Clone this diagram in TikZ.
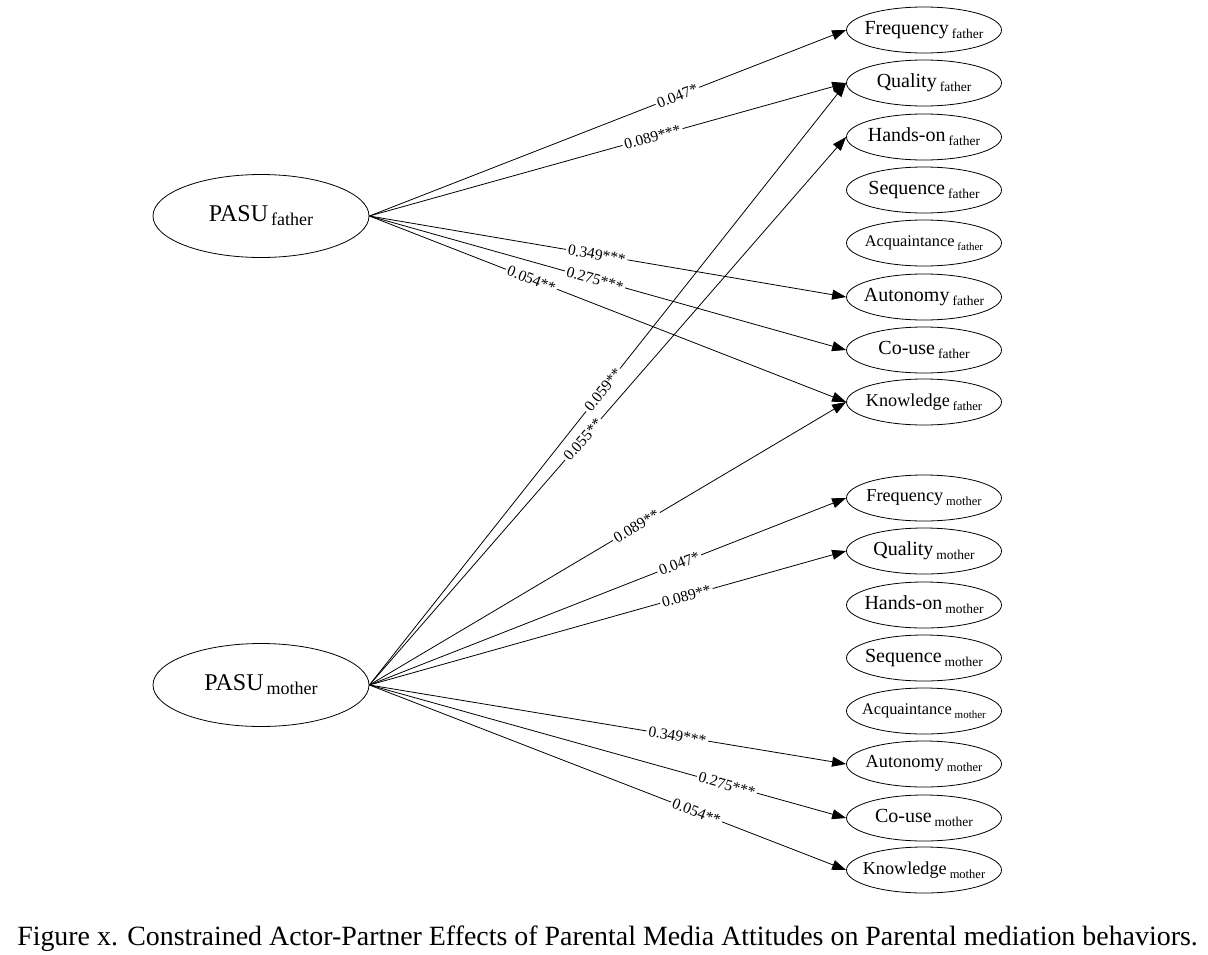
\documentclass[tikz,border=0pt]{standalone}
\usepackage{fontspec}
\setmainfont{Liberation Serif}
\usetikzlibrary{shapes.geometric,arrows.meta}
\newcommand\lab[4]{\makebox[0pt][c]{{\fontsize{#1}{#1}\selectfont #2}\hspace{0.3em}\raisebox{-4pt}{\fontsize{#3}{#3}\selectfont #4}}}
\tikzset{
  tnode/.style={draw, ellipse, minimum width=155pt, minimum height=46pt, inner sep=0pt, line width=0.8pt},
  pnode/.style={draw, ellipse, minimum width=216pt, minimum height=83pt, inner sep=0pt, line width=0.8pt},
  elab/.style={fill=white, sloped, inner sep=2pt, font=\fontsize{15.5}{15.5}\selectfont},
  arr/.style={-{Triangle[length=14pt,width=10pt]}, line width=0.8pt}
}
\begin{document}
\begin{tikzpicture}[x=1pt,y=-1pt]
\useasboundingbox (0,0) rectangle (1208,954);
% predictors
\node[pnode] (pf) at (261,216) {\lab{24}{PASU}{18}{father}};
\node[pnode] (pm) at (261,685) {\lab{24}{PASU}{18}{mother}};
% father outcomes
\node[tnode] (ff) at (924,30)  {\lab{20}{Frequency}{13.5}{father}};
\node[tnode] (qf) at (924,83)  {\lab{20}{Quality}{13.5}{father}};
\node[tnode] (hf) at (924,137) {\lab{20}{Hands-on}{13.5}{father}};
\node[tnode] (sf) at (924,190) {\lab{20}{Sequence}{13.5}{father}};
\node[tnode] (af) at (924,243) {\lab{16.3}{Acquaintance}{11}{father}};
\node[tnode] (uf) at (924,297) {\lab{20}{Autonomy}{13.5}{father}};
\node[tnode] (cf) at (924,350) {\lab{20}{Co-use}{13.5}{father}};
\node[tnode] (kf) at (924,402) {\lab{18.2}{Knowledge}{12.5}{father}};
% mother outcomes
\node[tnode] (fm) at (924,498) {\lab{18.2}{Frequency}{12.5}{mother}};
\node[tnode] (qm) at (924,551) {\lab{20}{Quality}{13.5}{mother}};
\node[tnode] (hm) at (924,605) {\lab{20}{Hands-on}{13.5}{mother}};
\node[tnode] (sm) at (924,658) {\lab{20}{Sequence}{13.5}{mother}};
\node[tnode] (am) at (924,711) {\lab{16.3}{Acquaintance}{11}{mother}};
\node[tnode] (um) at (924,764) {\lab{18.3}{Autonomy}{12.5}{mother}};
\node[tnode] (cm) at (924,818) {\lab{20}{Co-use}{13.5}{mother}};
\node[tnode] (km) at (924,870) {\lab{18.2}{Knowledge}{12.5}{mother}};
% father edges
\draw[arr] (pf.east) -- node[elab, pos=0.646] {0.047*} (ff.west);
\draw[arr] (pf.east) -- node[elab, pos=0.594] {0.089***} (qf.west);
\draw[arr] (pf.east) -- node[elab, pos=0.477] {0.349***} (uf.west);
\draw[arr] (pf.east) -- node[elab, pos=0.473] {0.275***} (cf.west);
\draw[arr] (pf.east) -- node[elab, pos=0.34] {0.054**} (kf.west);
% mother edges
\draw[arr] (pm.east) -- node[elab, pos=0.56] {0.089**} (kf.west);
\draw[arr] (pm.east) -- node[elab, pos=0.49] {0.059**} (qf.west);
\draw[arr] (pm.east) -- node[elab, pos=0.448] {0.055**} (hf.west);
\draw[arr] (pm.east) -- node[elab, pos=0.65] {0.047*} (fm.west);
\draw[arr] (pm.east) -- node[elab, pos=0.665] {0.089**} (qm.west);
\draw[arr] (pm.east) -- node[elab, pos=0.646] {0.349***} (um.west);
\draw[arr] (pm.east) -- node[elab, pos=0.75] {0.275***} (cm.west);
\draw[arr] (pm.east) -- node[elab, pos=0.686] {0.054**} (km.west);
% caption
\node[anchor=base, inner sep=0pt, font=\fontsize{27.9}{28}\selectfont] (cap) at (607.5,945)
  {Figure x. Constrained Actor-Partner Effects of Parental Media Attitudes on Parental mediation behaviors.};
\end{tikzpicture}
\end{document}
